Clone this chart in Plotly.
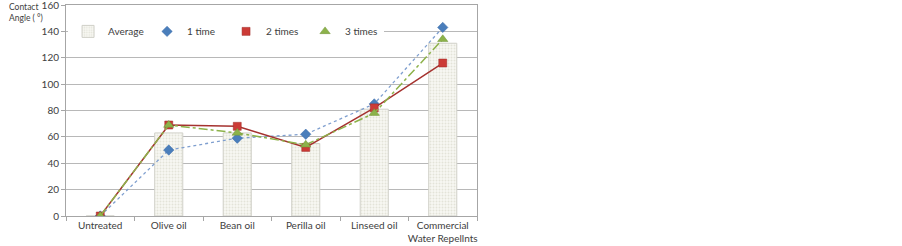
import plotly.graph_objects as go

categories = ["Untreated", "Olive oil", "Bean oil", "Perilla oil", "Linseed oil", "Commercial<br>Water Repellnts"]
average = [0, 63, 63, 55, 81, 131]
time1 = [0, 50, 59, 62, 85, 143]
time2 = [0, 69, 68, 52, 82, 116]
time3 = [0, 69, 63, 54, 78, 134]
yticks = [0, 20, 40, 60, 80, 100, 120, 140, 160]

FONT = "Lato, Open Sans, DejaVu Sans, sans-serif"
TXT = "#404040"

blue_m = dict(symbol="diamond", size=8, color="#4a7ebb", line=dict(color="#3a6aa8", width=0.5))
red_m = dict(symbol="square", size=8, color="#cc3b36", line=dict(color="#9c2a27", width=0.5))
green_m = dict(symbol="triangle-up", size=9, color="#8cb24a", line=dict(color="#6e9236", width=0.5))
bar_m = dict(color="#f3f3ec", line=dict(color="#d0d0c8", width=1),
             pattern=dict(shape=".", fgcolor="#cfcfc0", bgcolor="#f7f7f2", size=3, solidity=0.35))

fig = go.Figure()
fig.add_trace(go.Bar(x=categories, y=average, name="Average", width=0.41, marker=bar_m, showlegend=True))
fig.add_trace(go.Scatter(
    x=categories, y=time1, name="1 time", mode="lines+markers", showlegend=False,
    line=dict(color="#7f9fcf", width=1.3, dash="dot"), marker=blue_m,
))
fig.add_trace(go.Scatter(
    x=categories, y=time2, name="2 times", mode="lines+markers", showlegend=False,
    line=dict(color="#a5322f", width=1.5), marker=red_m,
))
fig.add_trace(go.Scatter(
    x=categories, y=time3, name="3 times", mode="lines+markers", showlegend=False,
    line=dict(color="#8db24a", width=1.5, dash="dashdot"), marker=green_m,
))
# legend-only entries (marker symbols only, as in the reference legend)
for nm, mk in [("1 time", blue_m), ("2 times", red_m), ("3 times", green_m)]:
    fig.add_trace(go.Scatter(x=[None], y=[None], name=nm, mode="markers", marker=mk, showlegend=True))

fig.update_layout(
    width=902, height=246,
    margin=dict(l=66, r=425, t=5, b=30),
    paper_bgcolor="white", plot_bgcolor="white",
    font=dict(family=FONT, size=10, color=TXT),
    showlegend=True,
    legend=dict(orientation="h", x=0.005, xanchor="left", y=0.875, yanchor="middle",
                bgcolor="white", font=dict(family=FONT, size=10, color=TXT),
                itemwidth=30, entrywidth=34, entrywidthmode="pixels",
                tracegroupgap=0, traceorder="normal", itemsizing="trace"),
    bargap=0.59,
)
fig.update_xaxes(
    type="category", showgrid=False, showline=True, linecolor="#a6a6a6", linewidth=1,
    mirror=True, ticks="outside", ticklen=4, tickcolor="#a6a6a6", tickson="boundaries",
    tickangle=0, automargin=False, ticklabeloverflow="allow",
    tickfont=dict(family=FONT, size=10, color=TXT),
)
fig.update_yaxes(
    range=[0, 160], tickvals=yticks, showgrid=True, gridcolor="#b8b8b8", gridwidth=1,
    showline=True, linecolor="#a6a6a6", linewidth=1, mirror=True, automargin=False,
    ticks="outside", ticklen=4, tickcolor="#a6a6a6", zeroline=False,
    ticklabeloverflow="allow",
    tickfont=dict(family=FONT, size=10, color=TXT),
)
fig.add_annotation(
    text="Contact<br>Angle ( °)", xref="paper", yref="paper", x=-0.1436, y=1.0237,
    xanchor="left", yanchor="top", showarrow=False, align="left",
    font=dict(family=FONT, size=8.5, color=TXT),
)
fig.write_html("out.html", config={"displayModeBar": False},
               post_script="document.body.style.margin='0';")
